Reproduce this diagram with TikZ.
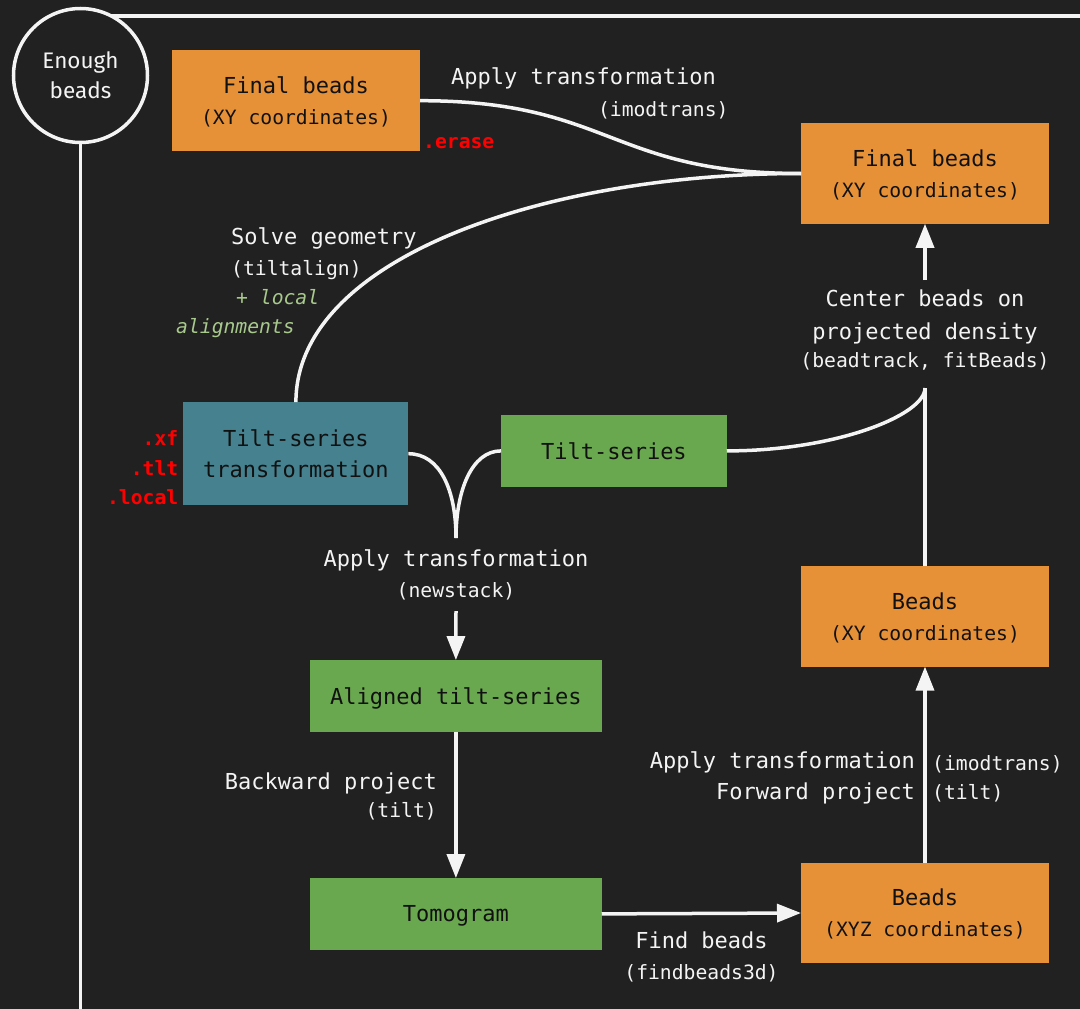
\documentclass[tikz,border=0pt]{standalone}
\usepackage{fontspec}
\usetikzlibrary{arrows.meta}
\newfontfamily\monof{DejaVu Sans Mono}
\newfontfamily\sansf{Fira Sans}
\newcommand\mainsz{\fontsize{22}{31}\selectfont}
\newcommand\subsz{\fontsize{19.7}{31}\selectfont}
\definecolor{bg}{HTML}{212121}
\definecolor{beadorange}{HTML}{E69138}
\definecolor{tealbox}{HTML}{45818E}
\definecolor{greenbox}{HTML}{6AA84F}
\definecolor{notegreen}{HTML}{A8C98C}
\definecolor{fg}{HTML}{F4F4F4}
\definecolor{ink}{HTML}{111111}
\definecolor{extred}{HTML}{FF0000}

\begin{document}
\begin{tikzpicture}[x=1pt,y=-1pt,
  box/.style={draw=none, inner sep=0pt, outer sep=0pt, align=center, text=ink, font=\monof\mainsz,
              text depth=-1pt},
  orangebox/.style={box, fill=beadorange, minimum width=248pt, minimum height=100.5pt},
  tealnode/.style={box, fill=tealbox, minimum width=225pt, minimum height=103pt},
  greennode/.style={box, fill=greenbox, minimum height=71.7pt},
  flow/.style={draw=fg, line width=3.5pt},
  arr/.style={flow, -{Triangle[length=24pt,width=18pt]}},
  lbl/.style={text=fg, inner sep=0pt, font=\monof\mainsz, yshift=-5.5pt},
  sublbl/.style={lbl, font=\monof\subsz},
  ext/.style={text=extred, inner sep=0pt, font=\monof\subsz\bfseries, yshift=-5pt},
  note/.style={text=notegreen, inner sep=0pt, font=\monof\subsz\itshape, yshift=-5pt},
]
% canvas
\fill[bg] (0,0) rectangle (1080,1009);
\useasboundingbox (0,0) rectangle (1080,1009);

% loop condition
\node[circle, draw=fg, line width=3.5pt, minimum size=134pt, inner sep=0pt, outer sep=0pt,
      text=fg, align=center, font=\sansf\fontsize{22.5}{30}\selectfont] (circ) at (80.5,75.5) {Enough\\beads};
\coordinate (loopTR) at (1090,16);
\coordinate (loopBL) at (80.5,1010.5);
\coordinate (loopBR) at (1090,1010.5);
\draw[flow] (circ.63.5) -- (circ.63.5 -| loopTR);
\draw[flow] (circ.south) -- (loopBL) -- (loopBR);

% boxes
\node[orangebox] (fbA) at (296,100.7) {Final beads\\{\subsz (XY coordinates)}};
\node[orangebox] (fbB) at (925,173.5) {Final beads\\{\subsz (XY coordinates)}};
\node[tealnode] (tst) at (295.9,453.7) {Tilt-series\\transformation};
\node[greennode, minimum width=225.7pt] (ts) at (613.9,450.9) {Tilt-series};
\node[greennode, minimum width=291.7pt] (aligned) at (455.9,695.9) {Aligned tilt-series};
\node[greennode, minimum width=291.7pt] (tomo) at (455.9,913.9) {Tomogram};
\node[orangebox] (bxy) at (925,616.3) {Beads\\{\subsz (XY coordinates)}};
\node[orangebox] (bxyz) at (925,913) {Beads\\{\subsz (XYZ coordinates)}};

% output file extensions
\node[ext, anchor=mid west] (erase) at (423,141.7) {.erase};
\node[ext, anchor=mid east] (xf) at (178.5,438) {.xf};
\node[ext, anchor=mid east] (tlt) at (178.5,468) {.tlt};
\node[ext, anchor=mid east] (local) at (178.5,497) {.local};

% junction points
\coordinate (cusp) at (456,538);
\coordinate (nsout) at (456,611);
\coordinate (junction) at (925,388);
\coordinate (stub) at (925,280);

% connectors
\draw[flow] (fbA.east) .. controls (610,100.7) and (610,173.5) .. (fbB.west);
\draw[flow] (tst.north) .. controls (296,258) and (545,173.5) .. (fbB.west);
\draw[flow] (tst.east) .. controls (440,453.7) and (456,490) .. (cusp);
\draw[flow] (ts.west) .. controls (472,450.9) and (456,490) .. (cusp);
\draw[arr] (nsout) -- (aligned.north);
\draw[arr] (aligned.south) -- (tomo.north);
\draw[arr] (tomo.east) -- (bxyz.west);
\draw[arr] (bxyz.north) -- (bxy.south);
\draw[flow] (bxy.north) -- (junction);
\draw[flow] (ts.east) .. controls (836,450.9) and (925,415) .. (junction);
\draw[arr] (stub) -- (fbB.south);

% step labels
\node[lbl, anchor=mid] (applyA) at (583.5,76.7) {Apply transformation};
\node[sublbl, anchor=mid east] (imodA) at (728.7,109.3) {(imodtrans)};
\node[lbl, anchor=mid west] (solve) at (231,237) {Solve geometry};
\node[sublbl, anchor=mid west] (tiltalign) at (231,268) {(tiltalign)};
\node[note, anchor=mid west] (plocal) at (236,297) {+ local};
\node[note, anchor=mid west] (alignm) at (176,326) {alignments};
\node[lbl, anchor=mid] (center1) at (925,299) {Center beads on};
\node[lbl, anchor=mid] (center2) at (925,332) {projected density};
\node[sublbl, anchor=mid] (center3) at (925,360) {(beadtrack, fitBeads)};
\node[lbl, anchor=mid] (applyB) at (456,559) {Apply transformation};
\node[sublbl, anchor=mid] (newstack) at (456,590) {(newstack)};
\node[lbl, anchor=mid east] (backw) at (437,782) {Backward project};
\node[sublbl, anchor=mid east] (tiltA) at (437,810) {(tilt)};
\node[lbl, anchor=mid] (findb) at (701.5,941) {Find beads};
\node[sublbl, anchor=mid] (findb3d) at (701.5,972) {(findbeads3d)};
\node[lbl, anchor=mid east] (applyC) at (915,761) {Apply transformation};
\node[lbl, anchor=mid east] (fwd) at (915,792) {Forward project};
\node[sublbl, anchor=mid west] (imodB) at (932,763) {(imodtrans)};
\node[sublbl, anchor=mid west] (tiltB) at (932,792) {(tilt)};
\end{tikzpicture}
\end{document}
